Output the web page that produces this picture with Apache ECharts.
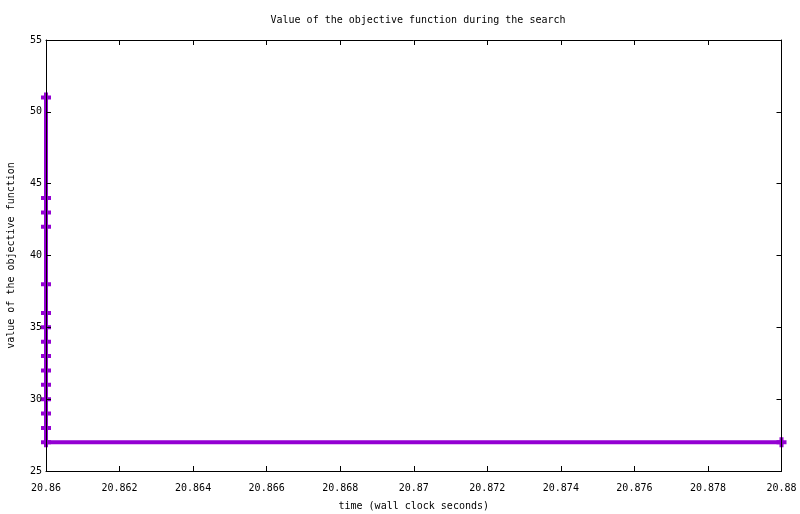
<!DOCTYPE html>
<html>
<head>
<meta charset="utf-8">
<script src="https://cdn.jsdelivr.net/npm/echarts@6/dist/echarts.min.js"></script>
<style>html,body{margin:0;padding:0;background:#fff}#c{width:800px;height:514px}</style>
</head>
<body>
<div id="c"></div>
<script>
var titleText = 'Value of the objective function during the search';
var xName = 'time (wall clock seconds)';
var yName = 'value of the objective function';
var times = [20.86, 20.86, 20.86, 20.86, 20.86, 20.86, 20.86, 20.86, 20.86, 20.86, 20.86, 20.86, 20.86, 20.86, 20.86, 20.88];
var values = [51, 44, 43, 42, 38, 36, 35, 34, 33, 32, 31, 30, 29, 28, 27, 27];
var xMin = 20.86, xMax = 20.88, xStep = 0.002;
var yMin = 25, yMax = 55, yStep = 5;

var font = 'DejaVu Sans Mono';
var chart = echarts.init(document.getElementById('c'), null, {renderer: 'canvas'});
var data = times.map(function (t, i) { return [t, values[i]]; });
function fmtX(v) { return String(parseFloat(v.toFixed(3))); }
var axisCommon = {
  axisLine: {show: true, onZero: false, lineStyle: {color: '#000', width: 1}},
  axisTick: {show: true, inside: true, length: 5, lineStyle: {color: '#000'}},
  splitLine: {show: false}
};
chart.setOption({
  animation: false,
  backgroundColor: '#fff',
  title: {
    text: titleText, left: 413, top: 10, textAlign: 'center',
    textStyle: {fontFamily: font, fontSize: 10, fontWeight: 'normal', color: '#000'}
  },
  grid: {left: 46, right: 18.5, top: 40, bottom: 43, containLabel: false, outerBoundsMode: 'none'},
  xAxis: [
    Object.assign({}, axisCommon, {
      type: 'value', min: xMin, max: xMax, interval: xStep, position: 'bottom', z: 5,
      name: xName, nameLocation: 'middle', nameGap: 30,
      nameTextStyle: {fontFamily: font, fontSize: 10, color: '#000'},
      axisLabel: {margin: 12, fontFamily: font, fontSize: 10, color: '#000', formatter: fmtX}
    }),
    Object.assign({}, axisCommon, {
      type: 'value', min: xMin, max: xMax, interval: xStep, position: 'top', z: 5,
      axisLabel: {show: false}
    })
  ],
  yAxis: [
    Object.assign({}, axisCommon, {
      type: 'value', min: yMin, max: yMax, interval: yStep, position: 'left', z: 5,
      name: yName, nameLocation: 'middle', nameGap: 30, nameRotate: 90,
      nameTextStyle: {fontFamily: font, fontSize: 10, color: '#000'},
      axisLabel: {margin: 4, fontFamily: font, fontSize: 10, color: '#000'}
    }),
    Object.assign({}, axisCommon, {
      type: 'value', min: yMin, max: yMax, interval: yStep, position: 'right', z: 5,
      axisLabel: {show: false}
    })
  ],
  series: [{
    type: 'line',
    data: data,
    xAxisIndex: 0, yAxisIndex: 0,
    lineStyle: {color: '#9400D3', width: 4},
    itemStyle: {color: '#9400D3'},
    symbol: 'path://M3,0H7V3H10V7H7V10H3V7H0V3H3Z',
    symbolSize: 10,
    showAllSymbol: true,
    z: 2
  }]
});
</script>
</body>
</html>
